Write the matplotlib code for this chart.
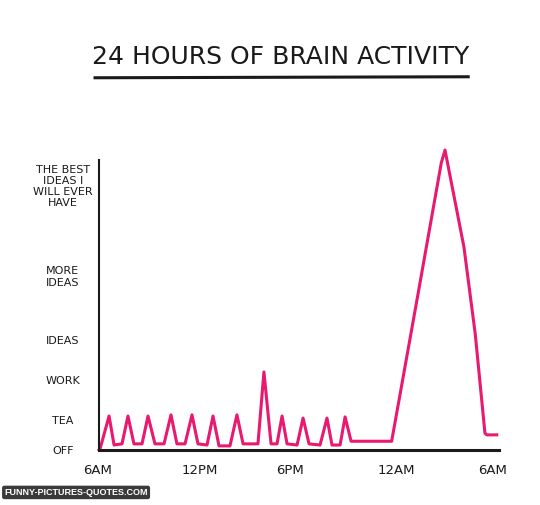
import matplotlib
matplotlib.use("Agg")
import matplotlib.pyplot as plt
from matplotlib.lines import Line2D

# Brain activity over a day, x in hours after 6AM, y on an arbitrary 0-100 scale
hours = [-0.37, -0.31, 0.25, 0.56, 1.05, 1.42, 1.79, 2.29, 2.66, 3.09, 3.65, 4.08,
         4.45, 4.95, 5.38, 5.75, 6.31, 6.68, 7.05, 7.73, 8.16, 8.54, 9.46, 9.83,
         10.27, 10.64, 10.95, 11.26, 11.88, 12.25, 12.62, 13.30, 13.73, 14.04,
         14.54, 14.85, 15.22, 17.73, 19.4, 20.8, 21.03,
         22.2, 22.9, 23.5, 23.61, 24.23]
activity = [0.0, 0.3, 11.7, 1.7, 2.1, 11.7, 2.1, 2.1, 11.7, 2.1, 2.1, 12.1,
            2.1, 2.1, 12.1, 2.1, 1.7, 11.7, 1.4, 1.4, 12.1, 2.1, 2.1, 26.9,
            2.1, 2.1, 11.7, 2.1, 1.7, 11.0, 2.1, 1.7, 11.0, 1.7, 1.7, 11.4,
            3.0, 3.0, 55.0, 99.0, 103.4,
            70.0, 40.0, 5.8, 5.2, 5.2]

x_ticks = [-0.46, 5.88, 11.44, 18.0, 23.98]
x_labels = ["6AM", "12PM", "6PM", "12AM", "6AM"]
y_ticks = [0, 10.3, 24.1, 37.9, 60.2, 91.4]
y_labels = ["OFF", "TEA", "WORK", "IDEAS", "MORE\nIDEAS", "THE BEST\nIDEAS I\nWILL EVER\nHAVE"]

ink = "#1a1a1a"
pink = "#e8196f"

fig = plt.figure(figsize=(5.4, 5.05), dpi=100)
ax = fig.add_axes([0.1795, 0.109, 0.7425, 0.603])

ax.plot(hours, activity, color=pink, lw=2.2, solid_joinstyle="round", clip_on=False)

ax.set_xlim(-0.5, 24.3)
ax.set_ylim(0, 105)
for side in ["top", "right"]:
    ax.spines[side].set_visible(False)
ax.spines["left"].set_bounds(0, 100)
ax.spines["left"].set_position(("data", -0.37))
ax.spines["bottom"].set_bounds(-0.37, 24.4)
ax.spines["left"].set_linewidth(1.5)
ax.spines["bottom"].set_linewidth(2.2)
ax.spines["left"].set_color(ink)
ax.spines["bottom"].set_color(ink)

ax.set_xticks(x_ticks)
ax.set_xticklabels(x_labels, fontsize=9.5, color=ink)
ax.set_yticks(y_ticks)
ax.set_yticklabels(y_labels, fontsize=8, color=ink, ha="center", multialignment="center",
                   linespacing=1.15)
ax.tick_params(axis="x", length=0, pad=10)
ax.tick_params(axis="y", length=0, pad=26)

fig.text(0.52, 0.887, "24 HOURS OF BRAIN ACTIVITY", ha="center", va="center",
         fontsize=18, color=ink)
fig.add_artist(Line2D([0.176, 0.867], [0.846, 0.848], color=ink, lw=2.2,
                      transform=fig.transFigure))

fig.text(0.008, 0.016, "FUNNY-PICTURES-QUOTES.COM", ha="left", va="bottom",
         fontsize=6.5, fontweight="bold", color="white", family="Liberation Sans",
         bbox=dict(boxstyle="round,pad=0.25", facecolor="#3a3a3a", edgecolor="none"))

fig.savefig("out.png", dpi=100)
